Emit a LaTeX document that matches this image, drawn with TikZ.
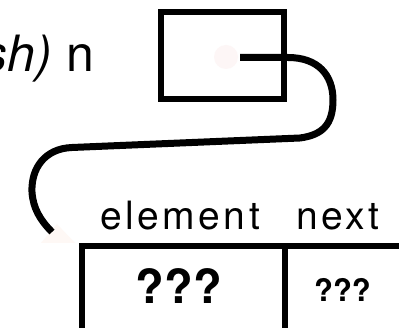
\documentclass[tikz,border=0pt]{standalone}
\usepackage{fontspec}
\setmainfont{TeX Gyre Heros}
\newfontfamily\lblfont[LetterSpace=9]{TeX Gyre Heros}
\definecolor{faintdot}{RGB}{253,246,246}
\definecolor{fainttip}{RGB}{254,248,245}
\tikzset{
  thickbox/.style={draw=black, line width=6pt},
  ptrline/.style={draw=black, line width=7pt},
  tableline/.style={draw=black, line width=5.5pt},
  lbl/.style={inner sep=0pt, font=\lblfont\fontsize{39}{42}\selectfont},
  bigq/.style={inner sep=0pt, font=\bfseries\fontsize{47}{50}\selectfont},
  smallq/.style={inner sep=0pt, font=\bfseries\fontsize{31}{34}\selectfont}
}
\begin{document}
\begin{tikzpicture}[x=1pt,y=-1pt]
\useasboundingbox (0,0) rectangle (399,328);
\clip (0,0) rectangle (399,328);
\fill[white] (0,0) rectangle (399,328);
% pointer label
\node[inner sep=0pt, anchor=base east, font=\fontsize{50}{54}\selectfont] (varname) at (94,72) {\textit{sh)} n};
% pointer box
\node[thickbox, minimum width=123pt, minimum height=86.5pt, inner sep=0pt, anchor=north west] (ptr) at (158,9.5) {};
\fill[faintdot] (226,57) circle (12);
\coordinate (start) at (240,57.5);
\coordinate (tip) at (52,232);
\fill[fainttip] (57,224) -- (41,243) -- (75,243) -- cycle;
\draw[ptrline] (start) -- (288,57.5)
  .. controls (318,57.5) and (333,75) .. (333,100)
  .. controls (333,125) and (322,135) .. (300,138)
  -- (72,147.5)
  .. controls (45,148.5) and (31,168) .. (32,192)
  .. controls (33,208) and (40,220) .. (tip);
% table
\coordinate (tl) at (82,246);
\coordinate (tm) at (285,246);
\draw[tableline] (82,340) -- (tl) -- (410,246);
\draw[tableline] (tm) -- (285,340);
\node[lbl, anchor=base west] (elem) at (100,230) {element};
\node[lbl, anchor=base west] (nxt) at (296,230) {next};
\node[bigq] (q1) at (179,286.5) {???};
\node[smallq] (q2) at (342.5,289.5) {???};
\end{tikzpicture}
\end{document}
